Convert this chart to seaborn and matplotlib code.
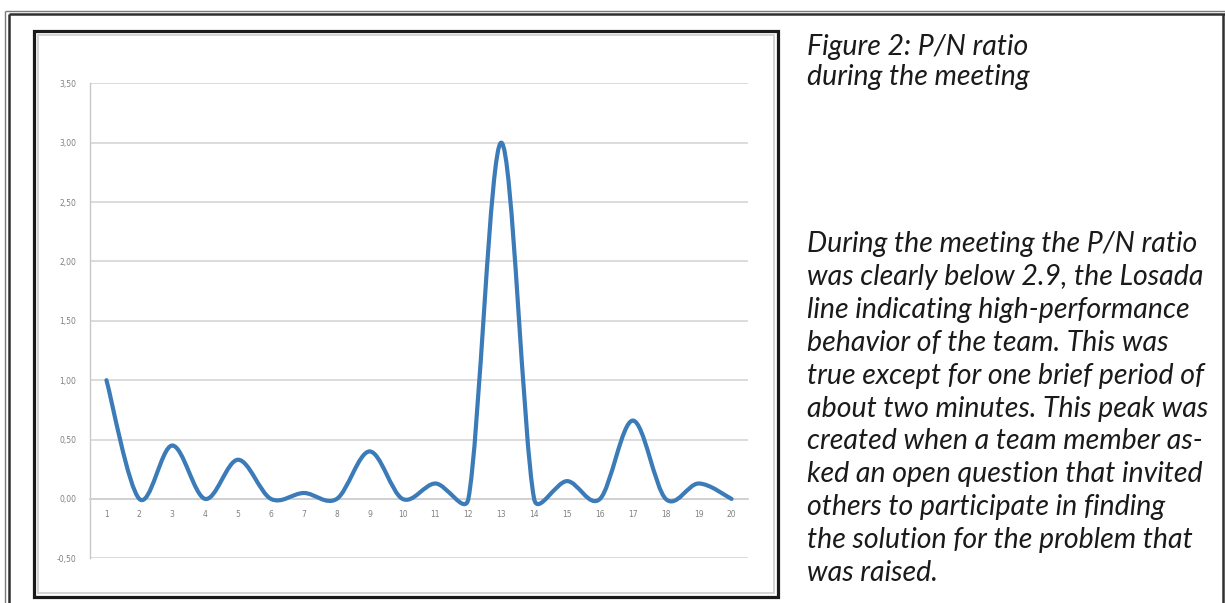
import numpy as np
import matplotlib
matplotlib.use("Agg")
import matplotlib.pyplot as plt
import seaborn as sns
from matplotlib.path import Path
from matplotlib.patches import PathPatch, Rectangle
from matplotlib.lines import Line2D

# data
minutes = list(range(1, 21))
pn_ratio = [1.00, 0.00, 0.45, 0.00, 0.33, 0.00, 0.05, 0.00, 0.40, 0.00,
            0.13, 0.00, 3.00, 0.00, 0.15, 0.00, 0.66, 0.00, 0.13, 0.00]
y_ticks = [-0.5, 0.0, 0.5, 1.0, 1.5, 2.0, 2.5, 3.0, 3.5]
y_tick_labels = ["-0,50", "0,00", "0,50", "1,00", "1,50", "2,00", "2,50", "3,00", "3,50"]
x_tick_labels = [str(m) for m in minutes]

caption = ["Figure 2: P/N ratio", "during the meeting"]
body = [
    "During the meeting the P/N ratio",
    "was clearly below 2.9, the Losada",
    "line indicating high-performance",
    "behavior of the team. This was",
    "true except for one brief period of",
    "about two minutes. This peak was",
    "created when a team member as-",
    "ked an open question that invited",
    "others to participate in finding",
    "the solution for the problem that",
    "was raised.",
]

W, H = 1225, 603


def smooth_path(xs, ys, aspect, tension=1 / 6):
    # excel-style smoothed line: cubic bezier per segment
    p = np.column_stack([xs, ys]).astype(float)
    q = p * [1.0, aspect]
    n = len(p)
    verts = [p[0]]
    codes = [Path.MOVETO]
    for i in range(n - 1):
        i0 = max(i - 1, 0)
        i3 = min(i + 2, n - 1)
        d12 = np.linalg.norm(q[i + 1] - q[i])
        d02 = np.linalg.norm(q[i + 1] - q[i0])
        d13 = np.linalg.norm(q[i3] - q[i])
        f1 = tension if d02 == 0 else min(tension, d12 / (2 * d02))
        f2 = tension if d13 == 0 else min(tension, d12 / (2 * d13))
        c1 = p[i] + f1 * (p[i + 1] - p[i0])
        c2 = p[i + 1] - f2 * (p[i3] - p[i])
        verts += [c1, c2, p[i + 1]]
        codes += [Path.CURVE4] * 3
    return Path(verts, codes)


sns.set_theme(style="white")

fig = plt.figure(figsize=(W / 100, H / 100), dpi=100)
ax = fig.add_axes([90 / W, 44.7 / H, 658 / W, 475 / H])
ax.set_facecolor("white")

ax.set_xlim(0.5, 20.5)
ax.set_ylim(-0.5, 3.5)
ax.set_yticks(y_ticks)
ax.set_yticklabels(y_tick_labels)
ax.set_xticks(minutes)
ax.set_xticklabels(x_tick_labels)
ax.set_xticks(np.arange(1.5, 20.5, 1.0), minor=True)
ax.grid(axis="y", color="#d9d9d9", linewidth=1.3)
ax.set_axisbelow(True)

for s in ["top", "right"]:
    ax.spines[s].set_visible(False)
ax.spines["left"].set_color("#c8c8c8")
ax.spines["left"].set_linewidth(1.0)
ax.spines["bottom"].set_position(("data", 0))
ax.spines["bottom"].set_color("#d0d0d0")
ax.spines["bottom"].set_linewidth(1.3)

ax.tick_params(axis="y", length=0, pad=10, labelsize=5.5, labelcolor="#808080")
ax.tick_params(axis="x", which="major", length=0, pad=8, labelsize=5.5, labelcolor="#808080")
ax.tick_params(axis="x", which="minor", length=2, width=0.8, color="#d0d0d0", direction="out")

# aspect in pixels: y px per unit / x px per unit
aspect = (475 / 4) / (658 / 20)
curve = smooth_path(minutes, pn_ratio, aspect)
ax.add_patch(PathPatch(curve, fill=False, edgecolor="#3b7bb8", linewidth=3.0,
                       capstyle="round", joinstyle="round", zorder=3))


def fline(x0, y0, x1, y1, color, lw):
    fig.add_artist(Line2D([x0 / W, x1 / W], [1 - y0 / H, 1 - y1 / H],
                          transform=fig.transFigure, color=color, linewidth=lw,
                          solid_capstyle="butt"))


# outer page frame (double rule)
fline(4.7, 10.5, W, 10.5, "#7a7a7a", 1.0)
fline(9, 14, W, 14, "#303030", 1.8)
fline(4.7, 10.5, 4.7, H, "#7a7a7a", 1.0)
fline(9, 14, 9, H, "#303030", 1.8)
fline(1223, 14, 1223, H, "#303030", 1.8)

# chart box
fig.add_artist(Rectangle((34 / W, 1 - 597 / H), (778 - 34) / W, (597 - 30.5) / H,
                         transform=fig.transFigure, fill=False,
                         edgecolor="#1a1a1a", linewidth=2.3))
fig.add_artist(Rectangle((38 / W, 1 - 593 / H), (774 - 38) / W, (593 - 34.5) / H,
                         transform=fig.transFigure, fill=False,
                         edgecolor="#d4d4d4", linewidth=1.4))

text_font = dict(family=["Lato", "DejaVu Sans"], style="italic",
                 fontsize=20.5, color="#1a1a1a", va="center", ha="left")
for i, line in enumerate(caption):
    fig.text(807 / W, 1 - (47 + 30 * i) / H, line, **text_font)
for i, line in enumerate(body):
    fig.text(807 / W, 1 - (244 + 32.9 * i) / H, line, **text_font)

fig.savefig("out.png", dpi=100)
